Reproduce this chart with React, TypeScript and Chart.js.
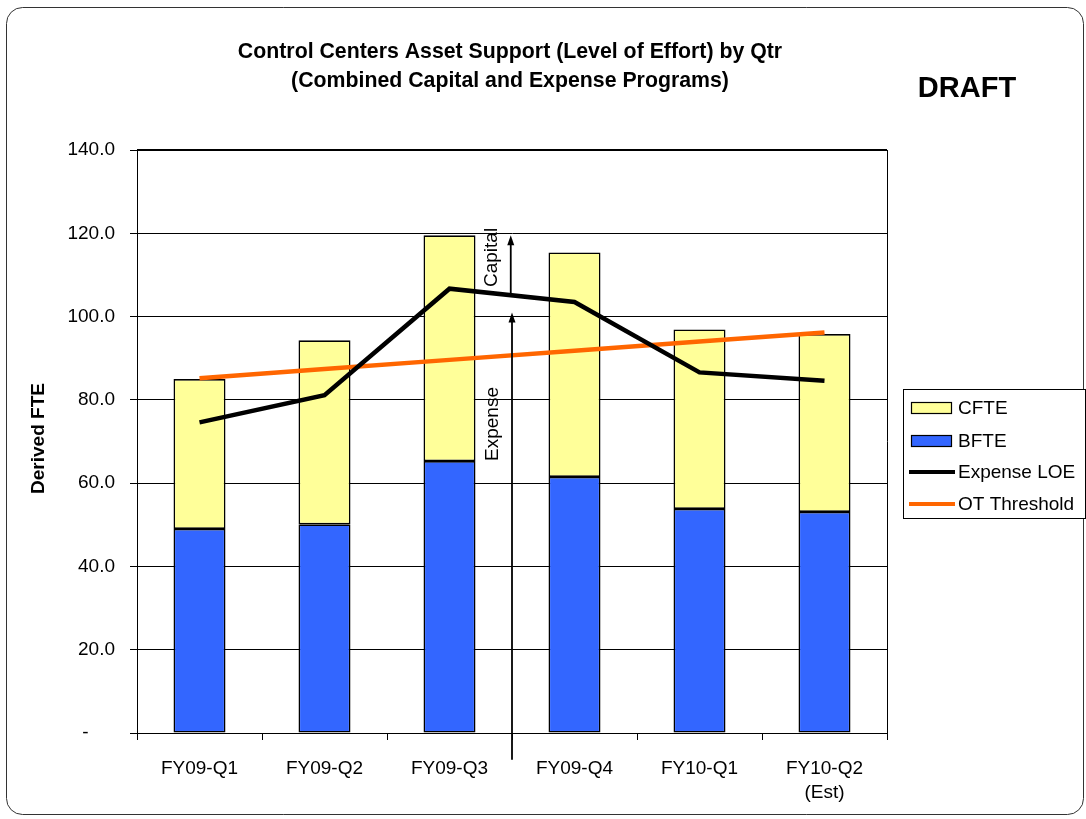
import React, { useEffect, useRef } from "react";
import { Chart, registerables } from "chart.js";
Chart.register(...registerables);

const FONT = "'Liberation Sans', Arial, sans-serif";

const titleLines = [
  "Control Centers Asset Support (Level of Effort) by Qtr",
  "(Combined Capital and Expense Programs)",
];
const draftLabel = "DRAFT";
const yAxisTitle = "Derived FTE";

const categories: (string | string[])[] = [
  "FY09-Q1",
  "FY09-Q2",
  "FY09-Q3",
  "FY09-Q4",
  "FY10-Q1",
  ["FY10-Q2", "(Est)"],
];
const bfte = [49.0, 50.1, 65.3, 61.5, 53.8, 53.1];
const cfte = [36.0, 44.2, 54.2, 53.9, 43.1, 42.7];
const expenseLoe = [74.6, 81.1, 106.7, 103.5, 86.6, 84.6];
const otThreshold = [85.2, 87.4, 89.6, 91.8, 94.0, 96.2];

const yMin = 0;
const yMax = 140;
const yStep = 20;

// annotation arrows: [x category value, y from, y to]
const expenseArrow = { x: 2.5, from: -6.4, to: 101.0, label: "Expense", labelY: 74.2 };
const capitalArrow = { x: 2.49, from: 105.6, to: 119.5, label: "Capital", labelY: 114.2 };

const legendItems = [
  { label: "CFTE", kind: "box", color: "#ffff99" },
  { label: "BFTE", kind: "box", color: "#3366ff" },
  { label: "Expense LOE", kind: "line", color: "#000000" },
  { label: "OT Threshold", kind: "line", color: "#ff6600" },
];

const decorPlugin = {
  id: "decor",
  beforeDraw(chart: any) {
    const ctx = chart.ctx;
    ctx.save();
    ctx.fillStyle = "#ffffff";
    ctx.fillRect(0, 0, chart.width, chart.height);
    ctx.strokeStyle = "#333";
    ctx.lineWidth = 1;
    ctx.beginPath();
    (ctx as any).roundRect(6.5, 7.5, 1077, 807, 16);
    ctx.stroke();
    ctx.restore();
  },
  afterDraw(chart: any) {
    const ctx = chart.ctx;
    const area = chart.chartArea;
    const xs = chart.scales.x;
    const ys = chart.scales.y;
    ctx.save();
    // right and top frame
    ctx.strokeStyle = "#000";
    ctx.lineWidth = 1;
    ctx.beginPath();
    ctx.moveTo(Math.round(area.right) + 0.5, area.top);
    ctx.lineTo(Math.round(area.right) + 0.5, area.bottom);
    ctx.stroke();
    ctx.lineWidth = 2;
    ctx.beginPath();
    ctx.moveTo(area.left, Math.round(area.top));
    ctx.lineTo(area.right, Math.round(area.top));
    ctx.stroke();

    // title
    ctx.fillStyle = "#000";
    ctx.textAlign = "center";
    ctx.textBaseline = "middle";
    ctx.font = `bold 21.3px ${FONT}`;
    ctx.fillText(titleLines[0], 510, 52);
    ctx.fillText(titleLines[1], 510, 81);

    // DRAFT
    ctx.font = `bold 29px ${FONT}`;
    ctx.fillText(draftLabel, 967, 89);

    // y title
    ctx.save();
    ctx.translate(39, (area.top + area.bottom) / 2 - 3);
    ctx.rotate(-Math.PI / 2);
    ctx.font = `bold 19px ${FONT}`;
    ctx.fillText(yAxisTitle, 0, 0);
    ctx.restore();

    // arrows
    const drawArrow = (a: any) => {
      const x = xs.getPixelForValue(a.x);
      const y0 = ys.getPixelForValue(a.from);
      const y1 = ys.getPixelForValue(a.to);
      ctx.strokeStyle = "#000";
      ctx.lineWidth = 1.8;
      ctx.beginPath();
      ctx.moveTo(x, y0);
      ctx.lineTo(x, y1 + 8);
      ctx.stroke();
      ctx.fillStyle = "#000";
      ctx.beginPath();
      ctx.moveTo(x, y1);
      ctx.lineTo(x - 3.5, y1 + 10);
      ctx.lineTo(x + 3.5, y1 + 10);
      ctx.closePath();
      ctx.fill();
      ctx.save();
      ctx.translate(x - 19, ys.getPixelForValue(a.labelY));
      ctx.rotate(-Math.PI / 2);
      ctx.font = `19px ${FONT}`;
      ctx.textAlign = "center";
      ctx.textBaseline = "middle";
      ctx.fillText(a.label, 0, 0);
      ctx.restore();
    };
    drawArrow(expenseArrow);
    drawArrow(capitalArrow);

    // legend
    const lx = 903.5;
    const ly = 389.5;
    ctx.fillStyle = "#fff";
    ctx.fillRect(lx, ly, 182, 129);
    ctx.strokeStyle = "#000";
    ctx.lineWidth = 1;
    ctx.strokeRect(lx, ly, 182, 129);
    const rowY = [408, 441, 472, 504];
    legendItems.forEach((it, i) => {
      const cy = rowY[i];
      if (it.kind === "box") {
        ctx.fillStyle = it.color;
        ctx.fillRect(911.5, cy - 5.5, 40, 11);
        ctx.strokeStyle = "#000";
        ctx.lineWidth = 1.2;
        ctx.strokeRect(911.5, cy - 5.5, 40, 11);
      } else {
        ctx.strokeStyle = it.color;
        ctx.lineWidth = 4;
        ctx.beginPath();
        ctx.moveTo(909, cy);
        ctx.lineTo(955, cy);
        ctx.stroke();
      }
      ctx.fillStyle = "#000";
      ctx.font = `19px ${FONT}`;
      ctx.textAlign = "left";
      ctx.textBaseline = "middle";
      ctx.fillText(it.label, 958, cy + 1);
    });
    ctx.restore();
  },
};

export default function App() {
  const ref = useRef<HTMLCanvasElement | null>(null);
  useEffect(() => {
    if (!ref.current) return;
    const chart = new Chart(ref.current, {
      type: "bar",
      data: {
        labels: categories as any,
        datasets: [
          {
            type: "line",
            label: "Expense LOE",
            data: expenseLoe,
            borderColor: "#000000",
            borderWidth: 4.5,
            pointRadius: 0,
            fill: false,
            tension: 0,
            stack: "loe",
            order: 0,
          } as any,
          {
            type: "line",
            label: "OT Threshold",
            data: otThreshold,
            borderColor: "#ff6600",
            borderWidth: 4.5,
            pointRadius: 0,
            fill: false,
            tension: 0,
            stack: "ot",
            order: 0,
          } as any,
          {
            label: "BFTE",
            data: bfte,
            backgroundColor: "#3366ff",
            borderColor: "#000",
            borderWidth: 1.6,
            borderSkipped: false,
            stack: "bars",
            order: 1,
            barPercentage: 0.416,
            categoryPercentage: 1,
          },
          {
            label: "CFTE",
            data: cfte,
            backgroundColor: "#ffff99",
            borderColor: "#000",
            borderWidth: 1.6,
            borderSkipped: false,
            stack: "bars",
            order: 1,
            barPercentage: 0.416,
            categoryPercentage: 1,
          },
        ],
      },
      options: {
        animation: false,
        responsive: false,
        layout: { padding: { left: 0, top: 150, right: 199, bottom: 0 } },
        plugins: {
          legend: { display: false },
          title: { display: false },
          tooltip: { enabled: false },
        },
        scales: {
          x: {
            stacked: true,
            grid: {
              offset: true,
              drawOnChartArea: false,
              tickLength: 7,
              color: "#000",
            },
            border: { color: "#000", width: 1 },
            ticks: {
              color: "#000",
              font: { family: FONT, size: 19, lineHeight: 1.25 },
              padding: 17,
              maxRotation: 0,
              autoSkip: false,
            },
            afterFit: (s: any) => {
              s.height = 86;
            },
          },
          y: {
            stacked: true,
            min: yMin,
            max: yMax,
            grid: { color: "#000", tickLength: 7, lineWidth: 1 },
            border: { color: "#000", width: 1 },
            ticks: {
              stepSize: yStep,
              color: "#000",
              font: { family: FONT, size: 19 },
              padding: 15,
              callback: (v: any) => (Number(v) === 0 ? "-     " : Number(v).toFixed(1)),
            },
            afterFit: (s: any) => {
              s.width = 137;
            },
          },
        },
      },
      plugins: [decorPlugin],
    });
    return () => chart.destroy();
  }, []);
  return (
    <div style={{ position: "absolute", left: 0, top: 0, width: 1086, height: 819 }}>
      <canvas ref={ref} width={1086} height={819} style={{ display: "block", width: 1086, height: 819 }} />
    </div>
  );
}
